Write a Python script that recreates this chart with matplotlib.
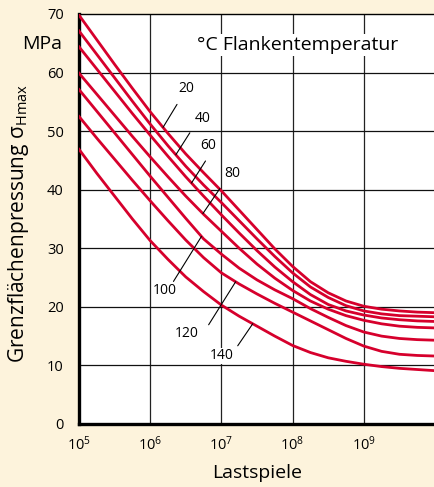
import numpy as np
import matplotlib
matplotlib.use("Agg")
import matplotlib.pyplot as plt

plt.rcParams['font.family'] = ['Open Sans', 'DejaVu Sans']
plt.rcParams['mathtext.fontset'] = 'custom'
plt.rcParams['mathtext.rm'] = 'Open Sans'
plt.rcParams['mathtext.default'] = 'rm'

log_cycles = [5.0, 5.25, 5.5, 5.75, 6.0, 6.25, 6.5, 6.75, 7.0, 7.25, 7.5,
              7.75, 8.0, 8.25, 8.5, 8.75, 9.0, 9.25, 9.5, 9.75, 10.0]

# flank temperature in degC -> limiting surface pressure in MPa
temps = [20, 40, 60, 80, 100, 120, 140]
p_20 = [69.8, 65.6, 61.4, 57.3, 53.3, 49.6, 46.1, 42.9, 39.8, 36.5, 33.2,
        29.9, 26.9, 24.3, 22.4, 21.0, 20.1, 19.6, 19.3, 19.1, 19.0]
p_40 = [67.1, 63.1, 59.1, 55.1, 51.2, 47.5, 44.0, 40.8, 37.8, 34.7, 31.6,
        28.6, 25.8, 23.4, 21.6, 20.2, 19.3, 18.8, 18.5, 18.4, 18.3]
p_60 = [64.4, 60.6, 56.8, 53.0, 49.3, 45.7, 42.2, 38.9, 35.7, 32.6, 29.6,
        26.8, 24.3, 22.1, 20.4, 19.3, 18.6, 18.1, 17.8, 17.6, 17.5]
p_80 = [59.9, 56.3, 52.7, 49.1, 45.6, 42.2, 38.9, 35.8, 32.9, 30.0, 27.3,
        24.9, 22.8, 21.0, 19.6, 18.5, 17.7, 17.1, 16.7, 16.5, 16.4]
p_100 = [57.1, 53.4, 49.7, 46.0, 42.3, 38.7, 35.1, 31.6, 29.0, 26.6, 24.6,
         22.9, 21.4, 19.7, 18.2, 16.8, 15.7, 15.0, 14.6, 14.4, 14.3]
p_120 = [52.5, 48.8, 45.2, 41.6, 38.1, 34.7, 31.4, 28.4, 25.8, 23.9, 22.2,
         20.6, 19.1, 17.6, 16.1, 14.6, 13.3, 12.4, 11.9, 11.7, 11.6]
p_140 = [46.9, 42.8, 38.9, 35.0, 31.3, 28.1, 25.1, 22.6, 20.3, 18.4, 16.7,
         15.0, 13.4, 12.2, 11.3, 10.7, 10.2, 9.8, 9.5, 9.3, 9.1]
curves = [p_20, p_40, p_60, p_80, p_100, p_120, p_140]

# where each label's leader line touches its curve (log10 cycles)
label_at = [6.18, 6.36, 6.58, 6.74, 6.72, 7.2, 7.44]
# leader end and label centre, offset in pixels from the touch point
leader_end = [(14, 23), (14, 22), (14, 22), (17, 25), (-28, -45), (-27, -43), (-15, -22)]
label_off = [(23, 39), (27, 36), (17, 37), (29, 40), (-37, -54), (-49, -52), (-31, -32)]

y_ticks = [0, 10, 20, 30, 40, 50, 60, 70]
x_ticks = [1e5, 1e6, 1e7, 1e8, 1e9]
x_ticklabels = ['$10^5$', '$10^6$', '$10^7$', '$10^8$', '$10^9$']

bg = '#fdf3dc'
red = '#d6002c'

fig = plt.figure(figsize=(4.35, 4.87), dpi=100, facecolor=bg)
ax = fig.add_axes([0.1816, 0.1294, 0.8184, 0.8419])
ax.set_facecolor('white')

x = 10.0 ** np.array(log_cycles)
for vals in curves:
    ax.plot(x, vals, color=red, lw=2.0, solid_joinstyle='round', zorder=3)

ax.set_xscale('log')
ax.set_xlim(1e5, 1e10)
ax.set_ylim(0, 70)
ax.set_xticks(x_ticks)
ax.set_xticklabels(x_ticklabels)
ax.minorticks_off()
ax.set_yticks(y_ticks)
ax.tick_params(length=0, labelsize=10.5)
ax.tick_params(axis='y', pad=11)
ax.tick_params(axis='x', pad=8)

# grid through every decade and every 10 MPa
for lx in [1e6, 1e7, 1e8, 1e9]:
    ax.axvline(lx, color='#222222', lw=0.9, zorder=1)
for ly in y_ticks[1:-1]:
    ax.axhline(ly, color='#111111', lw=0.9, zorder=1)

for side in ['left', 'bottom']:
    ax.spines[side].set_linewidth(2.4)
ax.spines['top'].set_linewidth(1.0)
ax.spines['right'].set_visible(False)

for t, vals, lx, le, lo in zip(temps, curves, label_at, leader_end, label_off):
    py = np.interp(lx, log_cycles, vals)
    ax.annotate('', xy=(10 ** lx, py), xytext=le, textcoords='offset pixels',
                arrowprops=dict(arrowstyle='-', lw=0.8, color='black',
                                shrinkA=0, shrinkB=0), zorder=4)
    ax.annotate(str(t), xy=(10 ** lx, py), xytext=lo, textcoords='offset pixels',
                ha='center', va='center', fontsize=10, zorder=5,
                bbox=dict(facecolor='white', edgecolor='none', pad=0.5))

ax.text(0.615, 64.7, '°C Flankentemperatur', transform=ax.get_yaxis_transform(),
        ha='center', va='center', fontsize=14, zorder=5,
        bbox=dict(facecolor='white', edgecolor='none', pad=1.5))
ax.text(-0.048, 64.9, 'MPa', transform=ax.get_yaxis_transform(),
        ha='right', va='center', fontsize=14)

ax.set_ylabel('Grenzflächenpressung σ$_{\\mathrm{Hmax}}$', fontsize=15, va='center')
ax.yaxis.set_label_coords(-0.17, 0.49)
ax.set_xlabel('Lastspiele', fontsize=14, va='center')
ax.xaxis.set_label_coords(0.5, -0.12)

fig.savefig('out.png', dpi=100, facecolor=bg)
